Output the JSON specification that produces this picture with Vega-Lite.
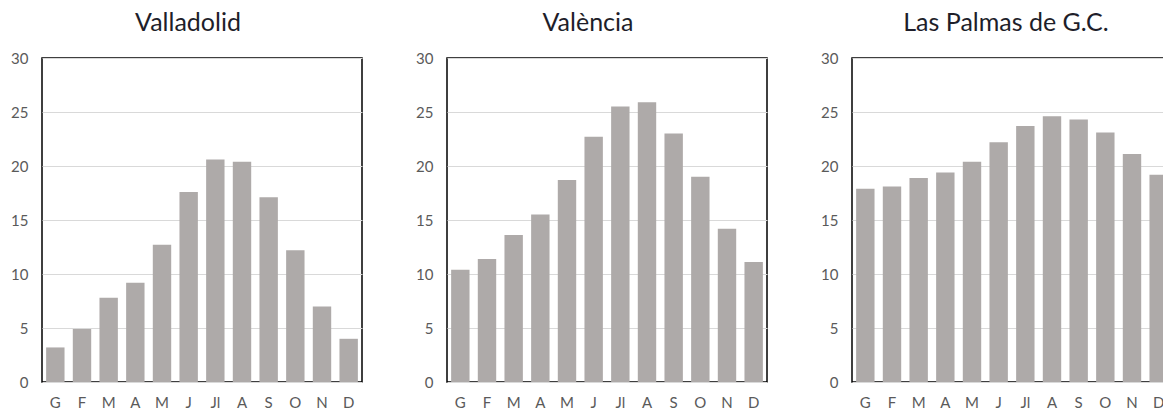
{
  "$schema": "https://vega.github.io/schema/vega-lite/v6.json",
  "padding": {"left": 9, "top": 10, "right": 0, "bottom": 0},
  "spacing": 51,
  "config": {
    "view": {"stroke": "#000000", "strokeWidth": 1.5},
    "font": "Lato",
    "title": {"fontSize": 25, "fontWeight": "normal", "color": "#1e1e2a", "anchor": "middle", "offset": 15},
    "axis": {
      "title": null,
      "ticks": false,
      "domain": false,
      "labelColor": "#5a5a5a",
      "labelFontSize": 15,
      "labelFont": "Lato",
      "gridColor": "#d9d9d9",
      "gridWidth": 1
    },
    "axisX": {"grid": false, "labelAngle": 0, "labelPadding": 13},
    "axisY": {"labelPadding": 14}
  },
  "datasets": {
    "valladolid": [
      {"mes": 1, "temp": 3.2}, {"mes": 2, "temp": 4.9}, {"mes": 3, "temp": 7.8},
      {"mes": 4, "temp": 9.2}, {"mes": 5, "temp": 12.7}, {"mes": 6, "temp": 17.6},
      {"mes": 7, "temp": 20.6}, {"mes": 8, "temp": 20.4}, {"mes": 9, "temp": 17.1},
      {"mes": 10, "temp": 12.2}, {"mes": 11, "temp": 7.0}, {"mes": 12, "temp": 4.0}
    ],
    "valencia": [
      {"mes": 1, "temp": 10.4}, {"mes": 2, "temp": 11.4}, {"mes": 3, "temp": 13.6},
      {"mes": 4, "temp": 15.5}, {"mes": 5, "temp": 18.7}, {"mes": 6, "temp": 22.7},
      {"mes": 7, "temp": 25.5}, {"mes": 8, "temp": 25.9}, {"mes": 9, "temp": 23.0},
      {"mes": 10, "temp": 19.0}, {"mes": 11, "temp": 14.2}, {"mes": 12, "temp": 11.1}
    ],
    "laspalmas": [
      {"mes": 1, "temp": 17.9}, {"mes": 2, "temp": 18.1}, {"mes": 3, "temp": 18.9},
      {"mes": 4, "temp": 19.4}, {"mes": 5, "temp": 20.4}, {"mes": 6, "temp": 22.2},
      {"mes": 7, "temp": 23.7}, {"mes": 8, "temp": 24.6}, {"mes": 9, "temp": 24.3},
      {"mes": 10, "temp": 23.1}, {"mes": 11, "temp": 21.1}, {"mes": 12, "temp": 19.2}
    ]
  },
  "hconcat": [
    {
      "data": {"name": "valladolid"},
      "title": {"text": "Valladolid", "dx": -14},
      "width": 320,
      "height": 324,
      "mark": {"type": "bar", "color": "#aeaaa9"},
      "encoding": {
        "x": {"field": "mes", "type": "ordinal", "scale": {"paddingInner": 0.31, "paddingOuter": 0.155},
              "axis": {"labelExpr": "['G','F','M','A','M','J','Jl','A','S','O','N','D'][datum.value-1]"}},
        "y": {"field": "temp", "type": "quantitative", "scale": {"domain": [0, 30]},
              "axis": {"values": [0, 5, 10, 15, 20, 25, 30]}}
      }
    },
    {
      "data": {"name": "valencia"},
      "title": {"text": "València", "dx": -19},
      "width": 320,
      "height": 324,
      "mark": {"type": "bar", "color": "#aeaaa9"},
      "encoding": {
        "x": {"field": "mes", "type": "ordinal", "scale": {"paddingInner": 0.31, "paddingOuter": 0.155},
              "axis": {"labelExpr": "['G','F','M','A','M','J','Jl','A','S','O','N','D'][datum.value-1]"}},
        "y": {"field": "temp", "type": "quantitative", "scale": {"domain": [0, 30]},
              "axis": {"values": [0, 5, 10, 15, 20, 25, 30]}}
      }
    },
    {
      "data": {"name": "laspalmas"},
      "title": {"text": "Las Palmas de G.C.", "dx": -6},
      "width": 320,
      "height": 324,
      "mark": {"type": "bar", "color": "#aeaaa9"},
      "encoding": {
        "x": {"field": "mes", "type": "ordinal", "scale": {"paddingInner": 0.31, "paddingOuter": 0.155},
              "axis": {"labelExpr": "['G','F','M','A','M','J','Jl','A','S','O','N','D'][datum.value-1]"}},
        "y": {"field": "temp", "type": "quantitative", "scale": {"domain": [0, 30]},
              "axis": {"values": [0, 5, 10, 15, 20, 25, 30]}}
      }
    }
  ]
}
